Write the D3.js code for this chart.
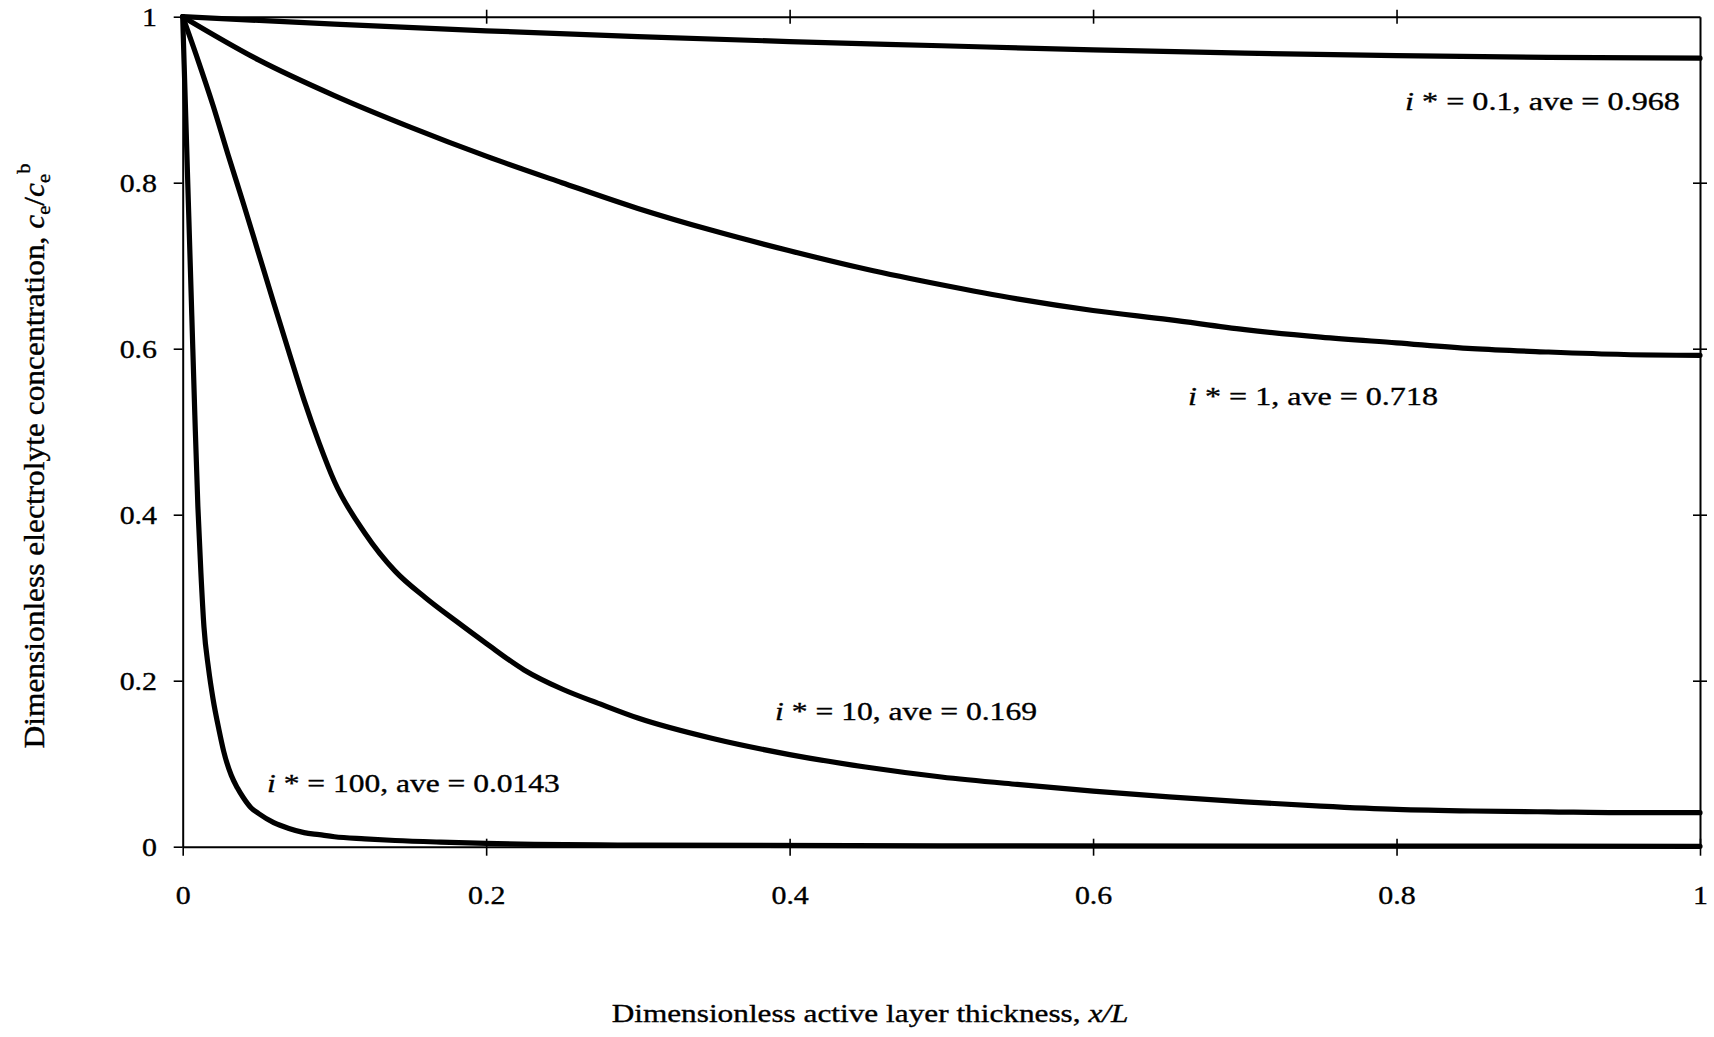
<!DOCTYPE html>
<html>
<head>
<meta charset="utf-8">
<script src="https://cdn.jsdelivr.net/npm/d3@7"></script>
<style>
  body { margin: 0; background: #fff; }
  svg { display: block; }
</style>
</head>
<body>
<svg id="chart" width="1714" height="1037"></svg>
<script>
// Axis ticks
const xTicks = [0, 0.2, 0.4, 0.6, 0.8, 1];
const yTicks = [0, 0.2, 0.4, 0.6, 0.8, 1];

// Dimensionless current i* and the average concentration of each profile
const iStar = ["0.1", "1", "10", "100"];
const averages = ["0.968", "0.718", "0.169", "0.0143"];

// Concentration profiles c_e/c_e^b against x/L
const xI01 = [0, 0.1, 0.2, 0.3, 0.4, 0.5, 0.6, 0.7, 0.8, 0.9, 1.0];
const cI01 = [1, 0.991, 0.983, 0.976, 0.970, 0.965, 0.960, 0.956, 0.953, 0.951, 0.950];

const xI1 = [0, 0.05, 0.1, 0.15, 0.2, 0.25, 0.3, 0.35, 0.4, 0.45, 0.5, 0.55, 0.6, 0.65, 0.7, 0.75, 0.8, 0.85, 0.9, 0.95, 1.0];
const cI1 = [1, 0.948, 0.905, 0.867, 0.832, 0.800, 0.769, 0.742, 0.718, 0.696, 0.677, 0.660, 0.646, 0.635, 0.623, 0.614, 0.607, 0.600, 0.596, 0.593, 0.592];

const xI10 = [0, 0.01, 0.02, 0.03, 0.04, 0.05, 0.06, 0.07, 0.08, 0.09, 0.10, 0.12, 0.14, 0.16, 0.18, 0.20, 0.225, 0.25, 0.275, 0.30, 0.35, 0.40, 0.45, 0.50, 0.55, 0.60, 0.65, 0.70, 0.75, 0.80, 0.85, 0.90, 0.95, 1.0];
const cI10 = [1, 0.948, 0.893, 0.833, 0.775, 0.715, 0.655, 0.596, 0.538, 0.486, 0.440, 0.378, 0.332, 0.300, 0.272, 0.245, 0.213, 0.190, 0.172, 0.155, 0.130, 0.111, 0.096, 0.084, 0.075, 0.067, 0.060, 0.054, 0.049, 0.045, 0.043, 0.042, 0.041, 0.041];

const xI100 = [0, 0.002, 0.004, 0.006, 0.008, 0.010, 0.012, 0.014, 0.017, 0.020, 0.024, 0.027, 0.032, 0.036, 0.040, 0.045, 0.050, 0.060, 0.070, 0.080, 0.090, 0.10, 0.12, 0.14, 0.17, 0.20, 0.30, 0.50, 1.0];
const cI100 = [1, 0.88, 0.76, 0.64, 0.52, 0.41, 0.33, 0.265, 0.215, 0.178, 0.140, 0.115, 0.086, 0.071, 0.059, 0.047, 0.040, 0.029, 0.022, 0.017, 0.0145, 0.012, 0.0095, 0.0075, 0.0055, 0.004, 0.002, 0.001, 0.0005];

const profiles = [
  { x: xI01, c: cI01 },
  { x: xI1, c: cI1 },
  { x: xI10, c: cI10 },
  { x: xI100, c: cI100 }
];

// Where each curve label sits, in data units (left or right end of the text, baseline)
const labelSpots = [
  { at: [0.9868, 0.8876], anchor: "end", width: 275 },
  { at: [0.6626, 0.5322], anchor: "start", width: 250 },
  { at: [0.3904, 0.1527], anchor: "start", width: 262 },
  { at: [0.0556, 0.0659], anchor: "start", width: 293 }
];

const SERIF = '"Liberation Serif", "Times New Roman", Tinos, serif';
const svg = d3.select("#chart").style("font-family", SERIF);
const FONT = 26;
const STRETCH = 1.15;

const x = d3.scaleLinear().domain([0, 1]).range([182.7, 1700]);
const y = d3.scaleLinear().domain([0, 1]).range([846.7, 16.7]);

// Common look for every piece of text
const ink = t => t.style("font-family", SERIF).attr("fill", "#000")
  .attr("stroke", "#000").attr("stroke-width", 0.35);

// Stretch a text element horizontally so that it spans the given width
function fitWidth(t, tx, ty, target) {
  const w = t.node().getComputedTextLength();
  t.attr("transform", `translate(${tx},${ty}) scale(${target / w},1)`);
}

// ---- Axes ----
const axisStyle = g => {
  g.attr("font-family", SERIF);
  g.selectAll(".domain").attr("stroke", "#000").attr("stroke-width", 2);
  g.selectAll(".tick line").attr("stroke", "#000").attr("stroke-width", 1.6);
};

// left
const gL = svg.append("g").attr("transform", `translate(${x(0)},0)`)
  .call(d3.axisLeft(y).tickValues(yTicks).tickSize(9).tickSizeOuter(0).tickFormat(d3.format("")))
  .call(axisStyle);
gL.selectAll(".tick text")
  .attr("x", null).attr("dy", null)
  .attr("font-size", FONT).attr("text-anchor", "end")
  .attr("transform", `translate(-25.7,8.8) scale(${STRETCH},1)`)
  .call(ink);

// bottom (ticks cross the axis)
const gB = svg.append("g").attr("transform", `translate(0,${y(0)})`)
  .call(d3.axisBottom(x).tickValues(xTicks).tickSize(9).tickSizeOuter(0).tickFormat(d3.format("")))
  .call(axisStyle);
gB.selectAll(".tick line").attr("y1", d => d === 0 ? 0 : -8);
gB.selectAll(".tick text")
  .attr("y", null).attr("dy", null)
  .attr("font-size", FONT).attr("text-anchor", "middle")
  .attr("transform", `translate(0,57) scale(${STRETCH},1)`)
  .call(ink);

// top (frame with crossing ticks, no labels)
const gT = svg.append("g").attr("transform", `translate(0,${y(1)})`)
  .call(d3.axisTop(x).tickValues(xTicks.slice(1, -1)).tickSize(7).tickSizeOuter(0).tickFormat(""))
  .call(axisStyle);
gT.selectAll(".tick line").attr("y2", 7).attr("y1", -7);

// right (frame with crossing ticks, no labels)
const gR = svg.append("g").attr("transform", `translate(${x(1)},0)`)
  .call(d3.axisRight(y).tickValues(yTicks.slice(1, -1)).tickSize(7).tickSizeOuter(0).tickFormat(""))
  .call(axisStyle);
gR.selectAll(".tick line").attr("x1", -7).attr("x2", 7);

// ---- Curves ----
const line = d3.line()
  .x(d => x(d[0]))
  .y(d => y(d[1]))
  .curve(d3.curveMonotoneX);

svg.append("g").selectAll("path")
  .data(profiles)
  .join("path")
  .attr("d", p => line(p.x.map((v, i) => [v, p.c[i]])))
  .attr("fill", "none")
  .attr("stroke", "#000")
  .attr("stroke-width", 5.2)
  .attr("stroke-linejoin", "round")
  .attr("stroke-linecap", "round");

// ---- Curve labels ----
iStar.forEach((s, k) => {
  const spot = labelSpots[k];
  const t = svg.append("text").attr("font-size", FONT).attr("text-anchor", spot.anchor).call(ink);
  t.append("tspan").attr("font-style", "italic").text("i");
  t.append("tspan").text(` * = ${s}, ave = ${averages[k]}`);
  fitWidth(t, x(spot.at[0]), y(spot.at[1]), spot.width);
});

// ---- Axis titles ----
const xt = svg.append("text").attr("font-size", FONT).attr("text-anchor", "middle").call(ink);
xt.append("tspan").text("Dimensionless active layer thickness, ");
xt.append("tspan").attr("font-style", "italic").text("x/L");
fitWidth(xt, 870, 1022, 517);

const yt = svg.append("text").attr("font-size", FONT).attr("text-anchor", "middle").call(ink);
yt.append("tspan").text("Dimensionless electrolyte concentration, ");
yt.append("tspan").attr("font-style", "italic").text("c");
yt.append("tspan").attr("font-size", 17).attr("dy", 5).text("e");
yt.append("tspan").attr("dy", -5).text("/");
yt.append("tspan").attr("font-style", "italic").text("c");
yt.append("tspan").attr("font-size", 17).attr("dy", 5).text("e");
yt.append("tspan").attr("font-size", 17).attr("dy", -17).text("b");
{
  const len = yt.node().getComputedTextLength();
  yt.attr("transform", `translate(44,456) scale(${STRETCH},${585 / len}) rotate(-90)`);
}
</script>
</body>
</html>
